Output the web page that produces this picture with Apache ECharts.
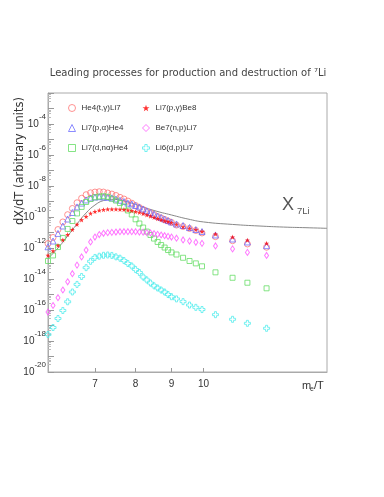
<!DOCTYPE html>
<html>
<head>
<meta charset="utf-8">
<script src="https://cdn.jsdelivr.net/npm/echarts@6/dist/echarts.min.js"></script>
<style>
  html, body { margin: 0; padding: 0; background: #fff; }
  #chart { width: 384px; height: 497px; }
</style>
</head>
<body>
<div id="chart"></div>
<script>
// m_e/T sampling points (dense up to 9, then sparse)
const xVals = [6.0, 6.1, 6.2, 6.3, 6.4, 6.5, 6.6, 6.7, 6.8, 6.9,
  7.0, 7.1, 7.2, 7.3, 7.4, 7.5, 7.6, 7.7, 7.8, 7.9,
  8.0, 8.1, 8.2, 8.3, 8.4, 8.5, 8.6, 8.7, 8.8, 8.9, 9.0,
  9.15, 9.35, 9.55, 9.75, 9.95, 10.4, 11.0, 11.55, 12.3];

// He4(t,g)Li7
const he4TG = [1.95e-12, 4.8e-12, 1.55e-11, 4.8e-11, 1.41e-10, 3.55e-10, 8.3e-10, 1.62e-9, 2.75e-9, 3.63e-9,
  4.07e-9, 4.27e-9, 4.07e-9, 3.55e-9, 3.02e-9, 2.45e-9, 1.86e-9, 1.45e-9, 1.07e-9, 7.8e-10,
  5.5e-10, 4.07e-10, 3.02e-10, 2.24e-10, 1.82e-10, 1.41e-10, 1.07e-10, 8.7e-11, 6.9e-11, 5.5e-11, 4.47e-11,
  3.02e-11, 2.45e-11, 1.82e-11, 1.35e-11, 9.3e-12, 5.4e-12, 2.95e-12, 1.82e-12, 1.12e-12];
// Li7(p,g)Be8
const li7PG = [3.31e-13, 6.46e-13, 1.45e-12, 3.31e-12, 7.4e-12, 1.55e-11, 3.31e-11, 6.46e-11, 1.07e-10, 1.7e-10,
  2.24e-10, 2.69e-10, 2.95e-10, 3.16e-10, 3.16e-10, 3.16e-10, 3.09e-10, 3.02e-10, 2.82e-10, 2.57e-10,
  2.24e-10, 1.95e-10, 1.62e-10, 1.35e-10, 1.12e-10, 9.3e-11, 7.8e-11, 6.6e-11, 5.6e-11, 5.0e-11, 4.27e-11,
  3.31e-11, 2.34e-11, 1.86e-11, 1.51e-11, 1.15e-11, 7.9e-12, 5.1e-12, 3.16e-12, 2.0e-12];
// Li7(p,a)He4
const li7PA = [1.2e-12, 2.82e-12, 8.7e-12, 2.63e-11, 7.4e-11, 1.95e-10, 4.47e-10, 7.9e-10, 1.26e-9, 1.7e-9,
  1.95e-9, 2.04e-9, 2.0e-9, 1.86e-9, 1.7e-9, 1.45e-9, 1.2e-9, 1.0e-9, 7.9e-10, 6.9e-10,
  5.5e-10, 4.47e-10, 3.31e-10, 2.51e-10, 1.95e-10, 1.51e-10, 1.15e-10, 9.3e-11, 7.4e-11, 5.9e-11, 4.8e-11,
  3.55e-11, 2.82e-11, 2.09e-11, 1.55e-11, 1.15e-11, 6.9e-12, 3.8e-12, 2.45e-12, 1.41e-12];
// Be7(n,p)Li7
const be7NP = [7.4e-17, 1.95e-16, 6.2e-16, 1.95e-15, 6.6e-15, 2.19e-14, 7.9e-14, 2.63e-13, 7.4e-13, 2.45e-12,
  5.1e-12, 7.4e-12, 8.9e-12, 9.8e-12, 1.02e-11, 1.07e-11, 1.12e-11, 1.12e-11, 1.12e-11, 1.12e-11,
  1.12e-11, 1.07e-11, 1.05e-11, 9.8e-12, 9.3e-12, 8.5e-12, 7.6e-12, 6.9e-12, 6.2e-12, 5.6e-12, 5.1e-12,
  4.27e-12, 3.31e-12, 2.82e-12, 2.34e-12, 2.0e-12, 1.35e-12, 8.7e-13, 5.2e-13, 3.31e-13];
// Li7(d,na)He4
const li7DNA = [1.45e-13, 3.31e-13, 1.15e-12, 4.47e-12, 1.7e-11, 5.5e-11, 1.7e-10, 4.47e-10, 9.3e-10, 1.45e-9,
  1.86e-9, 2.09e-9, 2.19e-9, 2.0e-9, 1.51e-9, 1.15e-9, 7.9e-10, 4.8e-10, 2.63e-10, 1.45e-10,
  7.1e-11, 3.8e-11, 2.09e-11, 1.15e-11, 6.9e-12, 4.07e-12, 2.45e-12, 1.55e-12, 1.07e-12, 7.4e-13, 5.2e-13,
  3.8e-13, 2.34e-13, 1.45e-13, 1.02e-13, 6.6e-14, 2.69e-14, 1.2e-14, 5.75e-15, 2.51e-15];
// Li6(d,p)Li7
const li6DP = [2.63e-18, 7.4e-18, 2.82e-17, 9.3e-17, 3.39e-16, 1.45e-15, 4.47e-15, 1.45e-14, 5.4e-14, 1.38e-13,
  2.45e-13, 2.95e-13, 3.39e-13, 3.55e-13, 3.31e-13, 2.69e-13, 2.19e-13, 1.55e-13, 1.0e-13, 6.9e-14,
  4.07e-14, 2.63e-14, 1.35e-14, 8.7e-15, 5.5e-15, 3.63e-15, 2.63e-15, 1.95e-15, 1.45e-15, 1.0e-15, 7.2e-16,
  5.2e-16, 3.47e-16, 2.09e-16, 1.48e-16, 1.07e-16, 5.0e-17, 2.51e-17, 1.38e-17, 6.6e-18];

// X_7Li abundance curve
const xLineX = [6.0, 6.2, 6.4, 6.6, 6.8, 7.0, 7.2, 7.4, 7.6, 7.8, 8.0, 8.5, 9.0, 9.5, 10, 11, 12, 13, 14, 15];
const xLineY = [2.09e-13, 1.0e-12, 5.9e-12, 3.55e-11, 1.82e-10, 5.9e-10, 1.15e-9, 1.38e-9, 1.26e-9, 9.3e-10,
  6.46e-10, 2.63e-10, 1.35e-10, 7.4e-11, 4.8e-11, 3.31e-11, 2.63e-11, 2.24e-11, 2.04e-11, 1.86e-11];

const xTicks = [7, 8, 9, 10];
const yLabelExps = [-4, -6, -8, -10, -12, -14, -16, -18, -20];

const FONT = "Liberation Sans";
const TFONT = "DejaVu Sans";
const STAR = "path://M0,-10L2.35,-3.24L9.51,-3.09L3.8,1.24L5.88,8.09L0,4L-5.88,8.09L-3.8,1.24L-9.51,-3.09L-2.35,-3.24Z";
const CROSS = "path://M-1,-3L1,-3L1,-1L3,-1L3,1L1,1L1,3L-1,3L-1,1L-3,1L-3,-1L-1,-1Z";

function pairs(xs, ys) {
  return xs.map((x, i) => [x, ys[i]]);
}

function openSeries(name, symbol, size, color, ys) {
  return {
    type: "scatter",
    name: name,
    symbol: symbol,
    symbolSize: size,
    itemStyle: { color: "rgba(0,0,0,0)", borderColor: color, borderWidth: 1 },
    data: pairs(xVals, ys),
    z: 3
  };
}

const chart = echarts.init(document.getElementById("chart"));

const legendBase = {
  orient: "vertical",
  top: 97,
  itemWidth: 7,
  itemHeight: 7,
  itemGap: 8,
  selectedMode: false,
  textStyle: { fontFamily: FONT, fontSize: 8, color: "#333", lineHeight: 12, padding: [0, 0, 0, 1] },
  itemStyle: { borderWidth: 1 }
};

const option = {
  animation: false,
  backgroundColor: "#fff",
  grid: { left: 48, right: 57, top: 93, bottom: 125, show: true, borderColor: "#aaa", borderWidth: 1 },
  legend: [
    Object.assign({}, legendBase, { left: 63, data: ["He4(t,γ)Li7", "Li7(p,α)He4", "Li7(d,nα)He4"] }),
    Object.assign({}, legendBase, { left: 137, data: ["Li7(p,γ)Be8", "Be7(n,p)Li7", "Li6(d,p)Li7"] })
  ],
  xAxis: {
    type: "log",
    logBase: 10,
    min: 6,
    max: 15,
    axisLine: { lineStyle: { color: "#aaa" } },
    splitLine: { show: false },
    axisTick: { inside: true, length: 4, customValues: xTicks, lineStyle: { color: "#999" } },
    axisLabel: {
      customValues: xTicks,
      formatter: (v) => String(Math.round(v)),
      fontFamily: FONT, fontSize: 10, color: "#333", margin: 7
    }
  },
  yAxis: {
    type: "log",
    logBase: 10,
    min: 1e-20,
    max: 1e-2,
    interval: 1,
    axisLine: { lineStyle: { color: "#aaa" } },
    splitLine: { show: false },
    axisTick: { inside: true, length: 6, lineStyle: { color: "#999" } },
    minorTick: { show: true, splitNumber: 5, length: 3, lineStyle: { color: "#bbb" } },
    axisLabel: {
      margin: 2,
      showMinLabel: true,
      showMaxLabel: true,
      hideOverlap: false,
      formatter: (v) => {
        const e = Math.round(Math.log10(v));
        if (yLabelExps.indexOf(e) < 0) return "";
        return "{b|10}{s|" + e + "}";
      },
      rich: {
        b: { fontFamily: FONT, fontSize: 10, color: "#333" },
        s: { fontFamily: FONT, fontSize: 8, color: "#333", padding: [0, 0, 15, 0] }
      }
    }
  },
  graphic: [
    {
      type: "text", x: 188, y: 73,
      style: {
        text: "Leading processes for production and destruction of \u2077Li",
        fontFamily: TFONT, fontSize: 10, fill: "#444", align: "center", verticalAlign: "middle"
      }
    },
    {
      type: "text", x: 20, y: 161, rotation: Math.PI / 2,
      style: { text: "dX/dT (arbitrary units)", fontFamily: TFONT, fontSize: 11.5, fill: "#333", align: "center", verticalAlign: "middle" }
    },
    { type: "text", x: 302, y: 380, style: { text: "m", fontFamily: FONT, fontSize: 11, fill: "#333" } },
    { type: "text", x: 310, y: 386, style: { text: "e", fontFamily: FONT, fontSize: 7, fill: "#333" } },
    { type: "text", x: 314, y: 380, style: { text: "/T", fontFamily: FONT, fontSize: 11, fill: "#333" } },
    { type: "text", x: 282, y: 196, style: { text: "X", fontFamily: FONT, fontSize: 18, fill: "#555" } },
    { type: "text", x: 297, y: 206, style: { text: "7Li", fontFamily: FONT, fontSize: 9.5, fill: "#555" } }
  ],
  series: [
    {
      type: "line",
      name: "X7Li",
      data: pairs(xLineX, xLineY),
      smooth: true,
      showSymbol: false,
      lineStyle: { color: "#888", width: 1 },
      z: 2
    },
    openSeries("He4(t,γ)Li7", "circle", 6, "#ff7777", he4TG),
    openSeries("Li7(p,α)He4", "triangle", 6, "#6f6fff", li7PA),
    openSeries("Li7(d,nα)He4", "rect", 5, "#66dd66", li7DNA),
    {
      type: "scatter",
      name: "Li7(p,γ)Be8",
      symbol: STAR,
      symbolSize: 5,
      itemStyle: { color: "#ff0000" },
      data: pairs(xVals, li7PG),
      z: 3
    },
    openSeries("Be7(n,p)Li7", "diamond", [4, 6], "#ff55ff", be7NP),
    openSeries("Li6(d,p)Li7", CROSS, 6, "#55eeee", li6DP)
  ]
};

chart.setOption(option);
</script>
</body>
</html>
